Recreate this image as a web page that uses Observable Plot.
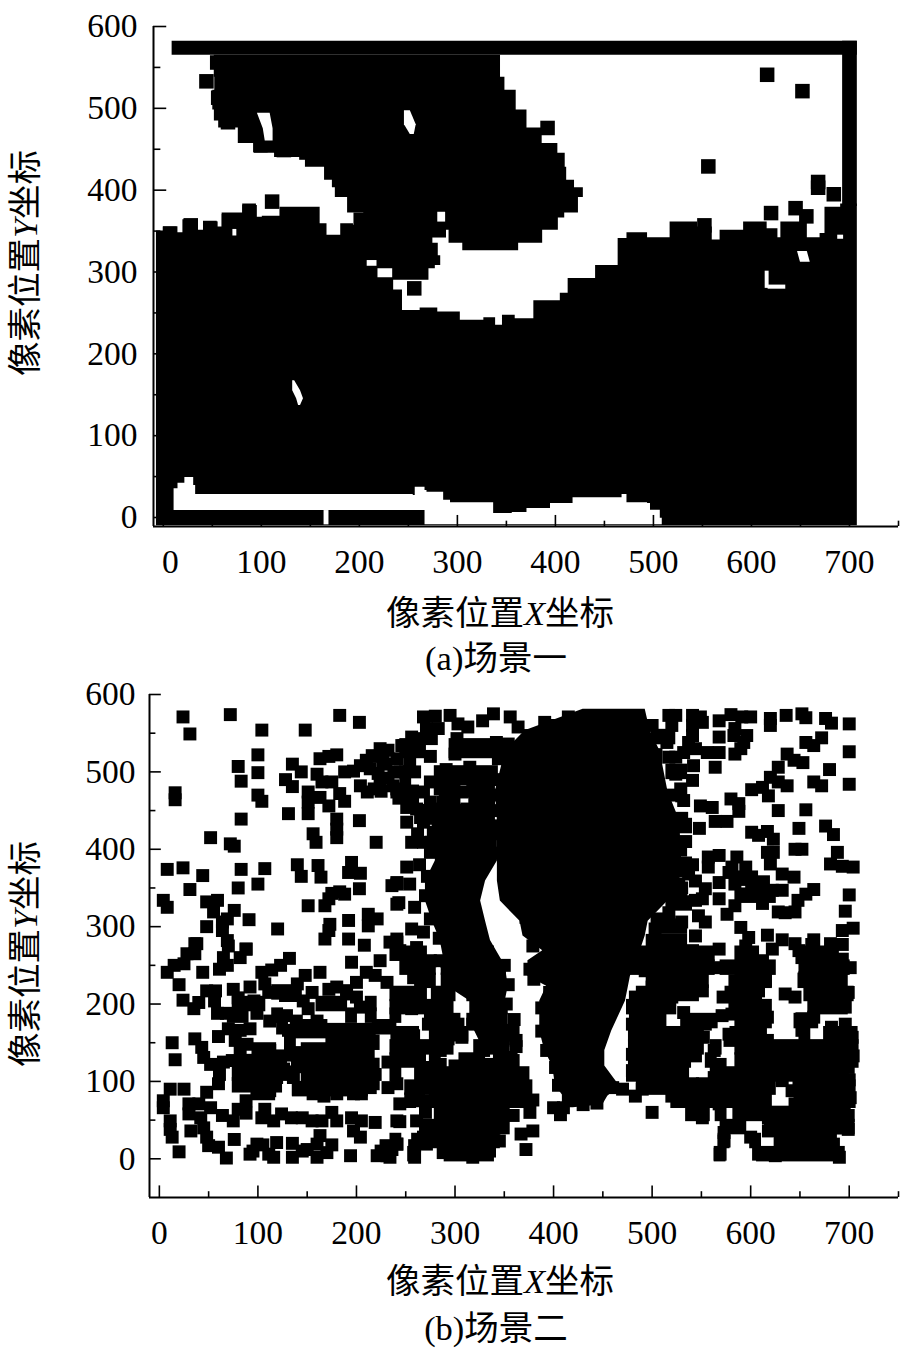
<!DOCTYPE html>
<html><head><meta charset="utf-8">
<script src="https://cdn.jsdelivr.net/npm/d3@7"></script>
<script src="https://cdn.jsdelivr.net/npm/@observablehq/plot@0.6"></script>
<style>
html,body{margin:0;padding:0;background:#fff}
#page{position:relative;width:900px;height:1350px;overflow:hidden}
#page svg{position:absolute;left:0;overflow:visible;background:transparent}
.t{position:absolute;font-family:"Liberation Serif","Noto Sans CJK SC",serif;font-size:34.5px;line-height:40px;color:#000;white-space:nowrap;transform:translate(-50%,-50%)}
.r{transform:translate(-50%,-50%) rotate(-90deg)}
</style></head><body><div id="page">
<div class="t" style="left:500px;top:613px">像素位置<i>X</i>坐标</div>
<div class="t" style="left:496px;top:658px">(a)场景一</div>
<div class="t r" style="left:25px;top:263px">像素位置<i>Y</i>坐标</div>
<div class="t" style="left:500px;top:1281px">像素位置<i>X</i>坐标</div>
<div class="t" style="left:496px;top:1328px">(b)场景二</div>
<div class="t r" style="left:25px;top:954px">像素位置<i>Y</i>坐标</div>
</div>
<script>
const majorX=[0,100,200,300,400,500,600,700];
const minorX=[50,150,250,350,450,550,650,750];
const majorY=[0,100,200,300,400,500,600];
const minorY=[50,150,250,350,450,550];

// ---- panel (a) ----
const aTopEdge=[[-7,350],[0,355],[14,348],[20,364],[35,351],[41,362],[55,355],[60,372],[81,383],[95,367],[101,368],[119,379],[160,359],[167,345],[181,359],[194,339],[208,312],[219,293],[235,278],[244,253],[262,256],[280,251],[303,241],[327,244],[339,235],[346,247],[359,243],[378,265],[405,274],[413,292],[441,308],[464,341],[473,348],[494,342],[517,361],[545,355],[560,339],[568,351],[592,361],[616,353],[627,342],[630,361],[643,361],[657,342],[670,347],[675,379],[691,383],[708,383]];
const aBandTop=[[11,35],[15,42],[22,49],[31,39],[33,28],[255,27],[257,37],[269,31],[286,21],[293,18],[327,18],[337,5],[356,6],[371,11],[395,17],[418,24],[468,28],[473,18],[494,17],[497,9],[507,-1],[509,-9]];
const aBarEnd=267, aBarTop=8.5, aBarGap=[164,169];
const aBar=[[582,9,708],[565,9,708]];
const aRightBar=[[582,693,708],[380,693,708]];
const aUpper=[[565,48,347],[538,56,341],[522,49,356],[498,52,364],[476,61,378],[457,92,395],[445,94,410],[440,133,410],[428,157,410],[412,172,413],[403,173,426],[391,178,431],[372,198,416],[366,211,403],[351,285,403],[335,298,371],[326,313,354]];
const aLobe=[[372,198,262],[357,191,272],[335,194,278],[320,201,283],[308,211,283],[304,221,272],[290,247,270]];
const aHoles=[
 [[497,246,252],[480,246,258],[468,252,256]],
 [[494,96,109],[475,102,112],[460,104,112]],
 [[373,280,288],[361,280,288]],
 [[314,208,218],[307,208,218]],
 [[167,132,134],[155,132,140],[145,136,143],[137,138,140]],
 [[352,71,75],[344,71,75]],
 [[325,647,657],[312,650,660]],
 [[345,688,694],[340,688,694]],
 [[301,614,618],[280,614,618]],
 [[284,617,635],[279,617,635]]
];
const aSquares=[[616,541],[652,521],[556,429],[392,476],[668,410],[668,403],[684,395],[620,372],[656,368],[552,357],[472,306],[44,533],[123,449],[256,280],[281,351],[111,386],[48,353],[28,357],[7,347],[67,362],[88,373],[99,455],[86,471],[66,483],[59,494],[56,513],[55,556],[146,446],[165,445],[473,332],[485,335],[645,378]];

// ---- panel (b) ----
const bMain=[[581,430,493],[553,371,498],[527,351,508],[475,341,516],[437,343,528],[385,343,530],[359,343,528],[333,346,516],[307,366,496],[288,369,493],[269,389,488],[256,374,484],[236,374,478],[223,393,476],[204,386,473],[165,386,459],[140,391,452],[120,399,452],[94,402,467],[81,410,455],[70,414,450],[66,414,420]];
const bLeg=[[437,283,343],[385,280,343],[359,270,331],[333,270,326],[307,277,331],[282,285,336],[249,290,351],[223,292,354],[204,315,351],[178,315,351],[152,325,363]];
// solid black patches read from the crowded regions: [y centre, x from, x to]
const bSolidLeft=[[215,114,141],[215,184,196],[200,82,108],[200,159,191],[200,209,221],[185,69,91],[185,114,126],[185,189,201],[185,209,221],[185,234,246],[170,119,131],[170,144,171],[170,216,241],[165,134,220],[150,127,139],[150,169,224],[140,94,119],[140,144,171],[135,127,219],[125,79,130],[120,134,224],[110,74,138],[105,144,221],[95,74,125],[90,135,212],[85,94,118]];
const bSolidTop=[[530,244,271],[530,294,351],[495,244,256],[495,279,344],[470,237,264],[470,284,306],[470,314,341],[445,259,341],[425,279,344],[400,269,341]];
const bSolidMid=[[265,234,272],[265,289,340],[247,244,281],[247,286,351],[230,259,281],[230,286,311],[230,314,352],[213,234,272],[213,276,301],[213,312,350],[196,234,299],[196,329,354],[178,269,306],[178,312,324],[178,329,354],[161,239,264],[161,274,314],[161,329,366],[144,234,299],[144,319,356],[127,234,271],[127,274,286],[127,304,331],[127,339,364],[109,234,246],[109,259,376],[92,249,379],[75,249,261],[75,274,378],[58,279,356],[41,264,356],[23,234,246],[23,256,346],[6,252,264],[6,289,340]];
const bSolidUpperRight=[[545,499,524],[520,499,511],[500,514,536],[470,524,536],[430,524,541],[400,524,536],[380,514,541],[345,509,536],[340,584,626],[330,514,541],[362,584,608],[300,509,536],[280,494,536]];
const bSolidRight=[[265,474,564],[265,584,609],[265,652,690],[247,474,564],[247,569,626],[247,649,701],[230,494,558],[230,584,622],[230,648,699],[213,484,548],[213,574,612],[213,654,705],[196,474,525],[196,584,622],[196,658,699],[178,477,515],[178,529,567],[178,584,622],[178,644,669],[161,476,553],[161,579,617],[161,649,661],[161,674,709],[144,476,553],[144,559,571],[144,584,710],[127,476,540],[127,554,566],[127,584,710],[109,474,538],[109,559,700],[92,484,626],[92,644,707],[75,519,622],[75,644,707],[58,534,559],[58,564,576],[58,584,702],[41,569,596],[41,614,706],[23,567,579],[23,599,611],[23,624,688],[6,563,575],[6,606,696]];
const bTL=[[24,571],[72,574],[183,573],[203,564],[31,549],[104,554],[148,554],[100,522],[80,507],[100,499],[83,488],[16,473],[16,464],[100,470],[104,462],[83,439],[131,446],[52,415],[72,407],[76,404],[8,374],[24,376],[44,366],[83,374],[107,375],[140,380],[144,365],[161,379],[164,364],[195,383],[192,370],[204,369],[220,409],[203,437],[156,420],[159,409],[180,439],[180,426],[180,415],[135,510],[144,500],[128,490],[135,481],[160,497],[163,517],[172,520],[180,522],[165,487],[175,487],[151,474],[151,461],[151,446],[163,467],[172,456],[183,472],[188,462],[188,500],[197,501],[204,508],[216,521],[224,530],[232,528],[214,504],[227,513],[238,500],[204,482],[211,474],[224,487],[218,478],[241,474],[246,534],[237,482],[203,349],[183,345],[175,343],[188,342],[172,336],[168,327],[151,327],[100,355],[80,350],[31,348],[4,334],[8,325],[48,332],[59,334],[55,319],[76,321],[48,300],[64,306],[69,310],[64,295],[91,309],[120,297],[173,303],[172,295],[192,308],[212,316],[221,310],[212,301],[168,284],[192,284],[208,276],[234,280],[241,284],[241,329],[236,353],[241,357],[36,278],[69,282],[88,271],[220,520],[230,510],[222,498],[232,492],[210,515],[225,475]];
const bBL=[[38,278],[28,265],[36,265],[15,250],[8,241],[25,252],[44,241],[20,225],[24,205],[40,202],[35,194],[48,217],[57,217],[56,204],[70,275],[65,260],[61,245],[69,250],[82,260],[88,271],[75,219],[92,222],[107,226],[111,215],[80,202],[96,204],[80,208],[104,241],[114,244],[123,250],[132,259],[148,237],[163,241],[140,226],[128,211],[138,211],[155,215],[146,204],[172,219],[180,222],[200,228],[195,254],[210,241],[224,256],[219,237],[231,228],[190,213],[200,209],[204,196],[59,188],[68,188],[99,188],[112,178],[129,185],[139,178],[151,194],[160,178],[160,168],[131,166],[70,168],[60,158],[82,166],[92,168],[77,153],[89,148],[82,140],[13,150],[16,128],[36,155],[43,144],[45,131],[52,122],[65,125],[74,127],[61,109],[60,97],[48,86],[86,109],[86,97],[96,118],[112,140],[122,133],[106,131],[126,116],[109,101],[99,88],[112,88],[119,105],[136,105],[141,90],[156,84],[167,81],[180,84],[197,84],[205,84],[217,97],[219,109],[214,92],[232,125],[232,92],[241,157],[241,49],[4,75],[11,90],[4,66],[25,90],[30,71],[30,58],[40,71],[42,53],[52,66],[64,56],[75,49],[80,64],[88,75],[88,59],[11,49],[11,38],[13,28],[20,9],[32,36],[45,40],[48,28],[50,17],[60,15],[68,1],[76,25],[92,6],[99,19],[111,6],[116,2],[119,21],[135,20],[135,2],[160,2],[160,19],[163,30],[175,18],[194,4],[221,4],[231,4],[230,17],[241,19],[197,36],[204,28],[195,53],[205,49],[219,47],[107,64],[104,53],[116,49],[124,58],[134,53],[145,53],[155,49],[165,49],[180,49],[175,60],[145,10],[105,18],[95,10],[150,12],[170,8],[225,10],[236,12]];
const bTM=[[268,571],[280,572],[295,573],[303,562],[313,558],[328,566],[339,575],[356,571],[364,558],[376,547],[391,564],[400,560],[415,571],[423,558],[271,556],[283,556],[256,545],[248,534],[263,543],[276,543],[275,520],[302,543],[300,523],[312,532],[324,532],[342,538],[354,536],[344,517],[291,503],[315,506],[254,515],[241,517],[259,500],[244,500],[241,478],[275,487],[285,478],[268,474],[307,474],[322,491],[251,454],[261,452],[275,461],[288,461],[251,435],[268,435],[281,452],[256,409],[268,409],[251,377],[264,380],[276,409],[278,422],[241,355],[254,355],[243,331],[259,325],[256,297],[268,293],[241,280],[295,439],[312,452],[329,443],[296,461],[318,475],[334,465],[298,420],[310,430],[330,420],[275,440],[262,420]];
const bBM=[[379,275],[383,247],[400,66],[407,57],[379,36],[367,32],[372,12],[359,127],[362,153],[352,166],[366,101],[369,92],[379,76],[376,60],[359,56],[345,239],[335,260],[325,239],[302,239],[285,256],[315,256],[275,256],[254,256],[244,269],[261,273],[258,234],[254,211],[244,200],[256,194],[264,198],[288,200],[283,181],[273,174],[303,174],[318,174],[249,159],[258,159],[281,153],[293,155],[307,157],[337,159],[349,155],[264,131],[254,140],[241,127],[268,118],[285,140],[285,122],[312,127],[329,140],[335,122],[352,131],[351,114],[335,101],[241,97],[244,71],[263,90],[263,75],[285,97],[302,105],[318,109],[295,79],[312,71],[325,71],[349,79],[288,62],[305,53],[325,53],[345,58],[244,48],[261,49],[268,28],[275,36],[259,17],[259,2],[241,19],[234,2],[288,8],[318,2],[335,10],[345,23],[302,36],[281,36],[318,32],[335,32],[295,19],[308,19],[324,6],[271,19],[299,90],[315,88],[330,88],[275,75],[270,60],[340,40],[290,40],[300,120],[320,95]];
const bTR=[[517,573],[524,573],[520,560],[541,573],[549,571],[541,560],[551,564],[568,566],[580,574],[591,571],[600,571],[620,569],[620,560],[636,573],[652,575],[656,570],[676,569],[682,563],[700,562],[515,538],[541,547],[537,538],[532,525],[544,530],[517,519],[524,519],[542,508],[524,497],[541,489],[529,478],[532,463],[564,506],[556,525],[568,525],[584,523],[593,538],[590,530],[596,547],[583,547],[584,556],[568,545],[656,538],[664,534],[672,544],[637,523],[644,515],[653,512],[700,526],[680,503],[628,506],[620,493],[628,487],[637,482],[612,480],[601,477],[618,469],[664,487],[672,482],[700,484],[580,465],[588,459],[588,449],[549,456],[561,454],[564,436],[576,436],[628,450],[656,451],[548,427],[601,422],[617,423],[608,418],[623,413],[649,427],[676,430],[684,419],[645,400],[652,400],[688,396],[681,381],[693,378],[704,377],[568,392],[557,390],[557,377],[586,390],[595,377],[581,377],[623,396],[617,396],[620,381],[541,380],[525,372],[537,368],[544,359],[527,355],[578,370],[568,357],[584,355],[613,358],[632,368],[644,364],[632,347],[622,347],[601,353],[554,349],[568,336],[551,336],[544,334],[584,327],[576,316],[612,330],[664,348],[656,342],[648,334],[645,319],[635,318],[628,319],[700,341],[696,320],[517,318],[530,306],[547,314],[554,306],[544,288],[503,297],[590,299],[598,286],[617,289],[632,283],[664,283],[681,278],[693,295],[704,298],[514,279],[645,278]];
const bBR=[[507,273],[524,273],[541,269],[568,271],[595,275],[622,271],[649,269],[662,277],[693,277],[483,256],[500,256],[527,256],[551,265],[564,247],[591,256],[612,256],[652,260],[693,258],[701,247],[493,243],[514,243],[537,243],[584,230],[601,234],[615,230],[655,234],[676,239],[689,230],[483,209],[500,222],[517,226],[541,222],[551,217],[590,217],[608,217],[635,213],[645,209],[682,217],[699,215],[572,209],[493,204],[507,204],[520,209],[584,200],[605,200],[682,200],[696,196],[672,196],[480,174],[493,183],[503,183],[532,189],[542,178],[554,174],[571,185],[581,187],[617,183],[652,181],[664,183],[652,166],[490,161],[502,161],[552,157],[578,161],[595,166],[608,161],[617,153],[682,170],[696,174],[682,157],[703,157],[692,157],[669,144],[480,135],[490,140],[517,157],[530,153],[517,140],[530,135],[544,133],[563,140],[579,153],[598,148],[606,144],[632,144],[645,140],[662,135],[676,140],[692,135],[704,133],[689,144],[480,114],[493,114],[503,127],[517,122],[530,118],[569,122],[591,127],[608,118],[632,122],[649,122],[666,122],[682,118],[699,118],[490,90],[483,81],[500,97],[514,101],[527,101],[541,97],[551,97],[563,105],[574,101],[591,105],[608,101],[632,101],[649,101],[672,105],[684,101],[700,102],[520,81],[534,75],[544,62],[554,75],[568,71],[584,79],[598,84],[612,79],[642,88],[645,71],[659,71],[676,75],[693,79],[701,79],[500,60],[551,53],[588,58],[601,62],[618,53],[632,53],[652,58],[669,58],[682,45],[699,56],[699,38],[689,40],[573,34],[569,6],[573,23],[600,28],[608,6],[625,4],[630,19],[642,10],[652,19],[666,28],[672,6],[684,19],[690,2],[618,36],[632,36],[649,36],[662,43]];
const bEdge=[[490,525],[495,510],[492,490],[500,560],[345,520],[340,490],[336,470],[338,450],[340,420],[342,395],[518,470],[530,440],[534,410],[534,380],[530,350],[505,310],[372,312],[380,292],[395,268],[376,245],[380,232],[396,215],[388,195],[388,165],[393,140],[402,118],[405,95],[415,80],[460,92],[470,90],[444,72],[430,70],[410,66],[283,430],[278,400],[272,365],[270,340],[275,310],[284,285],[292,255],[350,250],[354,225],[352,200],[360,180],[362,145]];

const row=r=>({y:r[0],x1:r[1],x2:r[2]});
const bandStyle={y:"y",x1:"x1",x2:"x2"};
const pt=p=>({x:p[0],y:p[1]});
const patch=h=>r=>({y1:r[0]-h,y2:r[0]+h,x1:r[1],x2:r[2]});
function frame(xLeft,yBottom,xZeroDx,hx,hy,mx,my,padX,padY){
  const opts={tickSize:0,fontSize:33.5,label:null};
  return [
    Plot.ruleY([yBottom],{x1:xLeft,x2:750,stroke:"#000",strokeWidth:2}),
    Plot.ruleX([xLeft],{y1:yBottom,y2:600,stroke:"#000",strokeWidth:2}),
    Plot.ruleX(majorX,{y1:yBottom,y2:yBottom+hy,stroke:"#000",strokeWidth:1.6}),
    Plot.ruleX(minorX,{y1:yBottom,y2:yBottom+my,stroke:"#000",strokeWidth:1.6}),
    Plot.ruleY(majorY,{x1:xLeft,x2:xLeft+hx,stroke:"#000",strokeWidth:1.6}),
    Plot.ruleY(minorY,{x1:xLeft,x2:xLeft+mx,stroke:"#000",strokeWidth:1.6}),
    Plot.axisX(majorX.filter(d=>d>0),{...opts,anchor:"bottom",tickPadding:padX}),
    Plot.axisX([0],{...opts,anchor:"bottom",tickPadding:padX,dx:xZeroDx}),
    Plot.axisY(majorY,{...opts,anchor:"left",tickPadding:padY})
  ];
}
const baseStyle={fontFamily:'"Liberation Serif",serif',color:"#000",background:"transparent"};

const holeMarks=aHoles.map(h=>Plot.areaX(h.map(row),{...bandStyle,fill:"#fff"}));
const gap=[...aBandTop.map(d=>({x:d[0],y1:d[0]<=aBarEnd?aBarTop:-9,y2:d[1]})),{x:aBarEnd-.01,y1:aBarTop,y2:33},{x:aBarEnd,y1:-9,y2:33}].sort((a,b)=>a.x-b.x);

const plotA=Plot.plot({
  width:900,height:640,marginLeft:153,marginRight:2,marginTop:26,marginBottom:114,
  style:baseStyle,
  x:{domain:[-10,750],range:[153,898]},
  y:{domain:[-11,600],range:[526,26]},
  marks:[
    Plot.areaY(aTopEdge.map(pt),{x:"x",y1:-10,y2:"y",fill:"#000",curve:"step-after"}),
    Plot.areaY(gap,{x:"x",y1:"y1",y2:"y2",fill:"#fff",curve:"step-after"}),
    Plot.areaX([{y:aBarTop,x1:aBarGap[0],x2:aBarGap[1]},{y:-9,x1:aBarGap[0],x2:aBarGap[1]}],{...bandStyle,fill:"#fff"}),
    Plot.areaX(aBar.map(row),{...bandStyle,fill:"#000"}),
    Plot.areaX(aRightBar.map(row),{...bandStyle,fill:"#000"}),
    Plot.areaX(aUpper.map(row),{...bandStyle,fill:"#000",curve:"step"}),
    Plot.areaX(aLobe.map(row),{...bandStyle,fill:"#000",curve:"step"}),
    Plot.dot(aSquares.map(pt),{x:"x",y:"y",symbol:"square",r:8.2,fill:"#000",stroke:"none"}),
    ...holeMarks,
    ...frame(-10,-11,7,13.5,13.5,7.5,6.5,23,16)
  ]
});
plotA.style.top="0px";

const bSquares=[...bTL,...bBL,...bTM,...bBM,...bTR,...bBR,...bEdge];
const bSolid=[...[...bSolidLeft,...bSolidMid,...bSolidUpperRight,...bSolidRight].map(patch(10)),...bSolidTop.map(patch(13))];
const plotB=Plot.plot({
  width:900,height:710,marginLeft:149,marginRight:2,marginTop:54,marginBottom:153,
  style:baseStyle,
  x:{domain:[-10,750],range:[149,898]},
  y:{domain:[-50,600],range:[557,54]},
  marks:[
    Plot.areaX(bMain.map(row),{...bandStyle,fill:"#000"}),
    Plot.areaX(bLeg.map(row),{...bandStyle,fill:"#000"}),
    Plot.rect(bSolid,{x1:"x1",x2:"x2",y1:"y1",y2:"y2",fill:"#000"}),
    Plot.dot(bSquares.map(pt),{x:"x",y:"y",symbol:"square",r:7.3,fill:"#000",stroke:"none"}),
    ...frame(-10,-50,0,12,15,6.5,7.5,23,14)
  ]
});
plotB.style.top="640px";
document.getElementById("page").append(plotA,plotB);
</script></body></html>
